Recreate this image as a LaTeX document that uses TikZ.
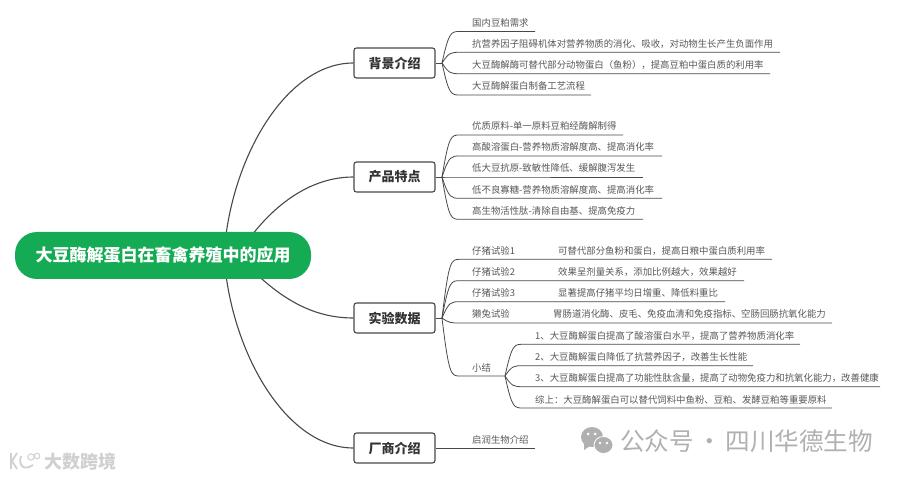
\documentclass[tikz,border=0pt]{standalone}
\usepackage{fontspec}
\setmainfont{Noto Sans CJK SC}
\usetikzlibrary{positioning, backgrounds, calc}
\definecolor{charcoal}{RGB}{72, 72, 72}
\definecolor{leaftext}{RGB}{88, 88, 88}
\definecolor{rootgreen}{RGB}{20, 171, 84}
\definecolor{markgray}{RGB}{176, 176, 176}
\definecolor{marklight}{RGB}{208, 208, 208}

\begin{document}
\begin{tikzpicture}[
            x=1pt, y=-1pt,
            rootbox/.style={fill=rootgreen, text=white, rounded corners=22pt, minimum width=296pt, minimum height=47pt, inner sep=0pt, font=\fontsize{17}{20}\selectfont\bfseries},
            topicbox/.style={draw=charcoal, fill=white, line width=1.1pt, rounded corners=2.5pt, minimum width=81pt, minimum height=30pt, inner sep=0pt, text=black!80, font=\fontsize{13}{16}\selectfont\bfseries},
            leaf/.style={anchor=base west, inner sep=0pt, text=leaftext, font=\fontsize{9.4}{11}\selectfont},
            branch/.style={draw=charcoal, line width=0.8pt},
            spoke/.style={draw=charcoal, line width=1.1pt}
        ]
            \useasboundingbox (0,0) rectangle (900,478);

            \node[rootbox] (root) at (163,255.5) {大豆酶解蛋白在畜禽养殖中的应用};
            \node[topicbox] (background) at (394.5,63) {背景介绍};
            \node[topicbox, below=82.9pt of background] (features) {产品特点};
            \node[topicbox, below=109.9pt of features] (trials) {实验数据};
            \node[topicbox, below=98.9pt of trials] (vendor) {厂商介绍};

            % curves from the root run behind it
            \begin{scope}[on background layer]
                \coordinate (hubouter) at (224,255);
                \coordinate (hubinner) at (238,255);
                \draw[spoke] (hubouter) .. controls (230,160) and (285,63) .. (background.west);
                \draw[spoke] (hubinner) .. controls (265,212) and (305,177) .. (features.west);
                \draw[spoke] (hubinner) .. controls (275,296) and (310,318) .. (trials.west);
                \draw[spoke] (hubouter) .. controls (230,350) and (285,448) .. (vendor.west);
            \end{scope}

            % first topic
            \coordinate (forkone) at (442,63);
            \draw[branch] (background.east) -- (forkone);
            \foreach \name/\y/\e/\txt in {
                demand/31.5/535/{国内豆粕需求},
                antinutrient/52.3/780/{抗营养因子阻碍机体对营养物质的消化、吸收，对动物生长产生负面作用},
                replace/73.7/770/{大豆酶解酶可替代部分动物蛋白（鱼粉），提高豆粕中蛋白质的利用率},
                process/95/591/{大豆酶解蛋白制备工艺流程}}{
                \node[leaf] (\name) at (472,\y-5) {\txt};
                \coordinate (\name end) at (\e,\y);
                \draw[branch] (forkone) .. controls (449,\y) and (451,\y) .. (460,\y) -- (\name end);
            }

            % second topic
            \coordinate (forktwo) at (442,177);
            \draw[branch] (features.east) -- (forktwo);
            \foreach \name/\y/\e/\txt in {
                material/135/623/{优质原料-单一原料豆粕经酶解制得},
                soluble/156/662/{高酸溶蛋白-营养物质溶解度高、提高消化率},
                antigen/177/643/{低大豆抗原-致敏性降低、缓解腹泻发生},
                sugar/198.3/662/{低不良寡糖-营养物质溶解度高、提高消化率},
                peptide/219.3/643/{高生物活性肽-清除自由基、提高免疫力}}{
                \node[leaf] (\name) at (472,\y-5) {\txt};
                \coordinate (\name end) at (\e,\y);
                \draw[branch] (forktwo) .. controls (449,\y) and (451,\y) .. (460,\y) -- (\name end);
            }

            % third topic
            \coordinate (forkthree) at (442,318);
            \draw[branch] (trials.east) -- (forkthree);
            \foreach \name/\y/\e/\txt/\nx/\note in {
                pigone/259.3/772/{仔猪试验1}/558/{可替代部分鱼粉和蛋白，提高日粮中蛋白质利用率},
                pigtwo/280.7/744/{仔猪试验2}/558/{效果呈剂量关系，添加比例越大，效果越好},
                pigthree/301.7/725/{仔猪试验3}/558/{显著提高仔猪平均日增重、降低料重比},
                rabbit/323/832/{獭兔试验}/553/{胃肠道消化酶、皮毛、免疫血清和免疫指标、空肠回肠抗氧化能力}}{
                \node[leaf] (\name) at (472,\y-5) {\txt};
                \node[leaf] (\name note) at (\nx,\y-5) {\note};
                \coordinate (\name end) at (\e,\y);
                \draw[branch] (forkthree) .. controls (449,\y) and (451,\y) .. (460,\y) -- (\name end);
            }
            \node[leaf] (summary) at (472,371) {小结};
            \coordinate (forkfour) at (505,376);
            \draw[branch] (forkthree) .. controls (449,376) and (451,376) .. (460,376) -- (forkfour);
            \foreach \name/\y/\e/\txt in {
                sumone/344.3/800/{1、大豆酶解蛋白提高了酸溶蛋白水平，提高了营养物质消化率},
                sumtwo/365.7/753/{2、大豆酶解蛋白降低了抗营养因子，改善生长性能},
                sumthree/386.7/880/{3、大豆酶解蛋白提高了功能性肽含量，提高了动物免疫力和抗氧化能力，改善健康},
                sumall/408/832/{综上：大豆酶解蛋白可以替代饲料中鱼粉、豆粕、发酵豆粕等重要原料}}{
                \node[leaf] (\name) at (535,\y-5) {\txt};
                \coordinate (\name end) at (\e,\y);
                \draw[branch] (forkfour) .. controls (512,\y) and (514,\y) .. (523,\y) -- (\name end);
            }

            % fourth topic
            \node[leaf] (qirun) at (472,443) {启润生物介绍};
            \coordinate (qirunend) at (535,448);
            \draw[branch] (vendor.east) -- (qirunend);

            % watermarks
            \node[anchor=base west, inner sep=0pt, text=markgray, font=\fontsize{24.6}{28}\selectfont] (account) at (620,450) {公众号\hspace{3.5pt}·\hspace{3.5pt}四川华德生物};
            \fill[markgray] (592,437) ellipse (11pt and 10pt);
            \fill[markgray] (584,444) -- (584,450) -- (590,446) -- cycle;
            \fill[markgray, draw=white, line width=0.8pt] (603.5,445) ellipse (9.5pt and 8.5pt);
            \fill[white] (588,434) circle (1.5pt) (595,434) circle (1.5pt);
            \fill[white] (600,443) circle (1.3pt) (607,443) circle (1.3pt);
            \node[anchor=base west, inner sep=0pt, text=marklight, font=\fontsize{18}{20}\selectfont\bfseries] (brand) at (44,468) {大数跨境};
            \draw[marklight, line width=1.8pt] (11,453) -- (11,469) (17,453) -- (12,461) -- (17,469);
            \draw[marklight, line width=1.8pt] (21,456) .. controls (18,466) and (24,471) .. (33,465);
            \draw[marklight, line width=1pt] (31,457) circle (3.2pt) (37,456) circle (2.8pt);
        \end{tikzpicture}
\end{document}
